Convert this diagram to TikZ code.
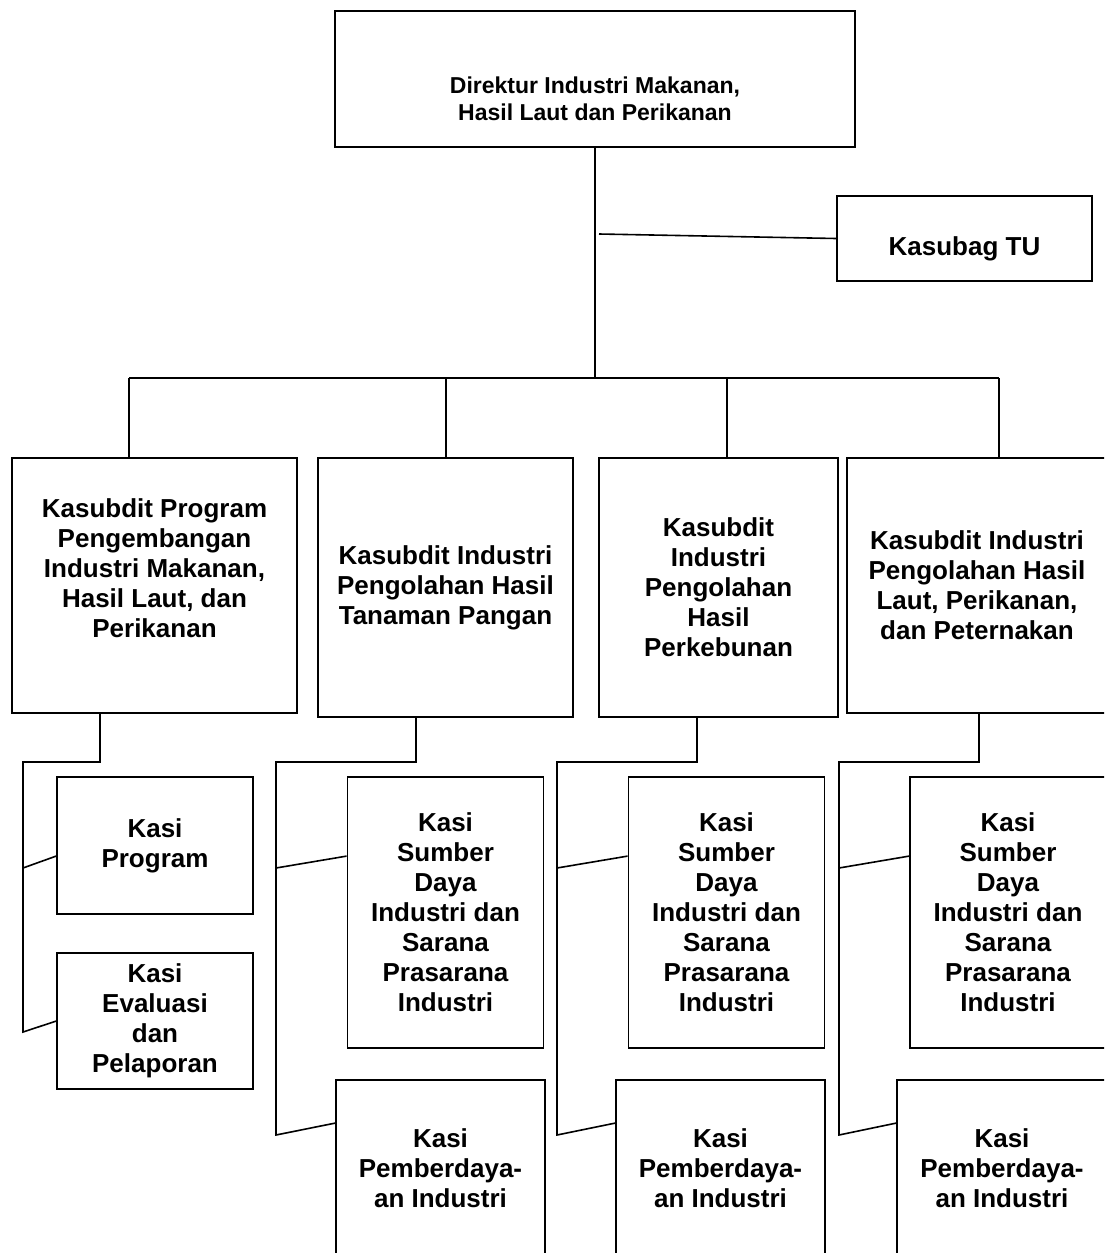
\documentclass[tikz,border=0pt]{standalone}
\usepackage{fontspec}
\setmainfont{Liberation Sans}
\usetikzlibrary{positioning, calc}

\begin{document}
\begin{tikzpicture}[
    x=1pt, y=-1pt,
    box/.style={draw, line width=1.8pt, inner sep=0pt, align=center, font=\fontsize{26}{30}\selectfont\bfseries},
    kasi/.style={box, minimum width=196pt},
    conn/.style={line width=1.6pt}
]
\useasboundingbox (0,0) rectangle (1104,1253);
\clip (0,0) rectangle (1104,1253);

% Direktur
\node[box, minimum width=520pt, minimum height=136pt, font=\fontsize{23}{27}\selectfont\bfseries] (dir) at (595,79) {\mbox{}\\[30pt]Direktur Industri Makanan,\\Hasil Laut dan Perikanan};

% Kasubag TU
\node[box, minimum width=255pt, minimum height=85pt] (tu) at (964.5,238.5) {\mbox{}\\[10pt]Kasubag TU};

% Kasubdit
\node[box, minimum width=285pt, minimum height=255pt] (k1) at (154.5,585.5) {Kasubdit Program\\Pengembangan\\Industri Makanan,\\Hasil Laut, dan\\Perikanan\\[5pt]\mbox{}};
\node[box, minimum width=255pt, minimum height=259pt] (k2) at (445.5,587.5) {Kasubdit Industri\\Pengolahan Hasil\\Tanaman Pangan};
\node[box, minimum width=239pt, minimum height=259pt] (k3) at (718.5,587.5) {Kasubdit\\Industri\\Pengolahan\\Hasil\\Perkebunan};
\node[box, minimum width=260pt, minimum height=255pt] (k4) at (977,585.5) {Kasubdit Industri\\Pengolahan Hasil\\Laut, Perikanan,\\dan Peternakan};

% Kasi
\node[kasi, minimum height=137pt] (prog) at (155,845.5) {Kasi\\Program};
\node[kasi, minimum height=136pt] (eval) at (155,1021) {Kasi\\Evaluasi\\dan\\Pelaporan};
\node[kasi, minimum height=271pt] (sd2) at (445.5,912.5) {Kasi\\Sumber\\Daya\\Industri dan\\Sarana\\Prasarana\\Industri};
\node[kasi, minimum height=271pt] (sd3) at (726.5,912.5) {Kasi\\Sumber\\Daya\\Industri dan\\Sarana\\Prasarana\\Industri};
\node[kasi, minimum height=271pt] (sd4) at (1008,912.5) {Kasi\\Sumber\\Daya\\Industri dan\\Sarana\\Prasarana\\Industri};
\node[box, minimum width=209pt, minimum height=176pt] (pb2) at (440.5,1168) {Kasi\\Pemberdaya-\\an Industri};
\node[box, minimum width=209pt, minimum height=176pt] (pb3) at (720.5,1168) {Kasi\\Pemberdaya-\\an Industri};
\node[box, minimum width=210pt, minimum height=176pt] (pb4) at (1002,1168) {Kasi\\Pemberdaya-\\an Industri};

% Lines from the top
\coordinate (bar) at (595,378);
\coordinate (tuj) at (599,234);
\draw[conn] (dir.south) -- (bar);
\draw[conn] (tuj) -- (tu.west);
\foreach \i/\x in {1/129, 2/446, 3/727, 4/999} {
    \coordinate (b\i) at (\x,378);
    \draw[conn] (b\i) -- (b\i |- k\i.north);
}
\draw[conn] (b1) -- (b4);

% Lines to the Kasi
\coordinate (d1) at (100,762);
\coordinate (rt1) at (23,762);
\coordinate (rm1) at (23,868);
\coordinate (rb1) at (23,1032);
\draw[conn] (k1.south -| d1) -- (d1) -- (rt1) -- (rb1) -- ($(eval.north west)+(0,69)$);
\draw[conn] (rm1) -- ($(prog.north west)+(0,80)$);
\foreach \i/\x/\r in {2/416/276, 3/697/557, 4/979/839} {
    \coordinate (d\i) at (\x,762);
    \coordinate (rt\i) at (\r,762);
    \coordinate (rm\i) at (\r,868);
    \coordinate (rb\i) at (\r,1135);
    \draw[conn] (k\i.south -| d\i) -- (d\i) -- (rt\i) -- (rb\i) -- ($(pb\i.north west)+(0,44)$);
    \draw[conn] (rm\i) -- ($(sd\i.north west)+(0,80)$);
}

\end{tikzpicture}
\end{document}
